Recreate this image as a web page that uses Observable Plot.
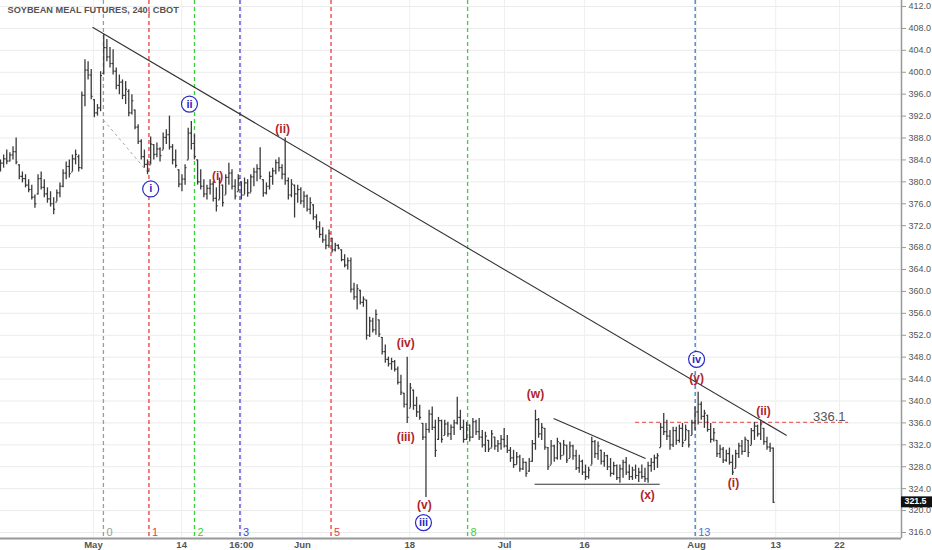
<!DOCTYPE html>
<html><head><meta charset="utf-8">
<script src="https://cdn.jsdelivr.net/npm/d3@7"></script>
<script src="https://cdn.jsdelivr.net/npm/@observablehq/plot@0.6"></script>
<style>
html,body{margin:0;padding:0;background:#fff;}
#chart{width:932px;height:550px;overflow:hidden;}
</style></head><body><div id="chart"></div>
<script>
const title = "SOYBEAN MEAL FUTURES, 240, CBOT";

// OHLC of 240-minute bars (bar index = position on the session axis)
const opens = [
382.5,383.4,384.2,383.8,384.9,385.5,383.1,381.0,380.6,379.4,
378.6,377.2,377.8,380.6,379.0,377.8,376.9,376.0,376.3,378.0,
379.2,381.6,382.8,381.8,384.2,384.6,382.6,395.8,400.4,399.5,
395.0,392.6,393.5,399.8,404.5,402.8,401.6,400.2,397.6,398.2,
395.8,396.5,392.6,393.1,390.0,387.4,384.6,383.2,383.1,386.8,
385.0,386.0,385.8,388.1,388.6,386.4,384.0,382.2,379.6,380.5,
384.0,388.9,387.0,384.0,380.0,379.2,377.8,378.8,379.6,377.0,
376.7,379.4,377.6,380.8,381.6,379.2,378.2,380.0,377.6,379.8,
378.0,380.9,381.8,382.4,380.4,378.0,379.2,381.0,382.0,383.5,
382.6,381.4,380.2,377.6,379.4,377.8,378.6,376.5,377.4,375.0,
375.8,373.6,371.8,370.4,369.4,368.4,369.7,367.6,368.4,367.6,
365.8,364.8,365.6,360.4,359.0,360.2,358.0,358.4,352.0,354.6,
353.0,354.8,351.6,349.0,347.6,346.8,347.2,345.8,343.4,341.4,
339.4,338.7,342.0,339.2,338.0,335.9,333.4,334.8,337.6,335.2,
333.0,336.4,333.7,335.8,334.0,335.2,336.0,337.0,335.2,333.0,
335.6,333.4,336.2,334.4,333.4,332.0,332.8,331.4,333.4,331.8,
332.2,333.0,331.8,331.0,329.6,328.4,329.8,327.6,328.8,327.2,
329.0,332.2,336.6,334.0,335.0,331.5,328.3,331.8,329.6,332.3,
330.1,331.9,329.5,331.8,330.0,327.8,329.0,327.0,326.2,328.3,
332.6,330.4,331.0,329.0,330.0,328.0,326.8,328.2,326.0,327.6,
328.8,327.0,326.2,327.4,326.4,327.0,326.2,325.8,328.2,328.8,
329.6,331.5,335.2,334.4,333.6,332.0,334.6,332.8,335.0,332.8,
334.6,333.7,336.0,338.0,339.4,337.2,337.4,334.8,333.0,332.8,
330.4,331.2,329.2,330.4,328.8,327.7,330.4,331.8,330.8,332.8,
331.9,334.6,335.4,334.0,335.0,332.6,331.6,331.4];
const highs = [
384.0,384.9,385.8,385.3,386.4,388.0,383.1,381.8,381.3,380.4,
379.4,377.6,381.3,381.8,380.4,378.9,378.2,377.1,378.5,379.8,
382.2,383.6,384.0,384.9,385.8,384.9,396.4,402.3,401.9,400.5,
395.0,394.1,400.1,406.9,406.0,404.5,404.1,400.8,399.5,398.6,
398.3,396.8,395.9,393.1,390.4,387.7,385.8,384.0,388.2,386.8,
387.1,386.2,388.9,389.5,392.0,386.8,385.8,382.2,381.3,383.1,
389.8,391.0,388.6,384.0,382.2,380.4,379.4,380.4,380.0,378.9,
380.7,379.4,381.3,383.4,382.2,380.4,381.3,380.0,380.7,380.4,
381.3,382.5,383.1,386.2,380.4,379.8,381.8,382.5,384.0,384.4,
383.1,388.0,380.7,380.4,379.4,379.4,378.9,378.2,377.6,377.1,
375.8,374.0,372.7,371.6,370.3,371.2,369.7,368.8,368.5,367.6,
366.7,366.1,366.1,361.5,361.2,360.2,359.0,358.4,355.3,355.1,
356.6,354.8,351.6,350.2,348.0,347.8,347.4,346.2,344.7,341.4,
348.0,343.2,342.0,340.7,339.2,335.9,335.9,338.3,338.9,336.5,
337.0,336.5,336.5,336.1,335.6,336.5,340.7,338.3,336.5,336.1,
335.6,336.8,336.5,336.8,334.6,334.3,332.8,334.6,333.4,332.8,
333.7,335.0,333.7,331.5,331.0,330.6,330.1,329.5,328.8,329.5,
332.8,338.3,336.8,335.9,335.0,331.5,332.8,331.9,333.2,332.3,
332.8,331.9,332.5,331.9,331.0,330.1,329.2,328.3,327.9,333.4,
332.8,332.5,331.0,330.6,330.1,329.5,328.8,328.3,328.3,329.2,
329.7,328.3,327.9,328.3,327.7,328.3,327.7,328.8,329.5,330.1,
330.4,335.9,337.7,336.5,334.6,335.2,335.2,335.6,335.9,335.6,
334.6,336.5,338.9,341.6,339.8,338.3,337.4,335.9,335.0,332.8,
331.9,331.5,331.0,331.4,330.1,331.0,332.3,332.8,333.4,332.8,
335.0,336.1,335.6,336.5,335.0,333.4,332.3,331.4];
const lows = [
381.8,382.5,383.1,383.6,384.0,383.1,380.4,379.8,378.9,378.0,
376.7,375.2,377.6,378.5,377.1,376.1,375.4,374.0,376.3,377.1,
378.9,380.4,380.7,381.8,383.1,381.8,382.2,393.7,398.6,395.0,
391.7,392.0,392.8,399.5,401.9,400.8,399.5,396.8,395.9,395.0,
394.1,391.9,392.2,389.5,386.8,384.0,382.5,381.3,383.1,384.0,
384.4,383.6,385.8,386.8,385.8,383.1,382.5,378.9,378.2,379.4,
384.0,385.8,384.0,379.4,378.5,377.1,376.7,377.6,376.3,374.5,
376.7,375.4,377.6,379.4,378.5,376.7,378.2,376.7,377.6,377.2,
378.0,379.1,380.0,380.4,377.2,377.6,378.5,379.4,381.3,381.8,
380.4,379.4,376.7,377.1,373.4,376.1,375.8,375.2,374.5,374.0,
373.0,371.2,369.7,368.8,367.6,367.9,367.0,367.2,367.6,365.4,
364.3,363.9,359.7,358.4,356.6,357.5,357.1,351.1,351.6,352.4,
352.0,351.6,348.4,346.9,346.2,345.6,345.3,342.9,341.0,338.7,
335.9,338.7,338.3,337.0,336.5,332.8,322.4,334.1,334.6,329.7,
332.8,332.3,333.7,333.4,332.8,333.7,335.6,334.6,332.3,332.8,
332.5,333.2,333.7,332.8,331.4,330.6,330.6,331.4,331.0,330.6,
331.0,331.4,330.4,328.8,327.7,328.3,327.0,327.3,326.1,327.0,
328.8,331.0,333.2,332.8,331.0,327.3,328.3,328.8,329.2,329.2,
330.1,328.6,329.5,329.2,327.3,326.8,326.4,325.5,325.7,328.3,
329.5,329.2,328.3,327.9,327.3,326.1,326.4,325.5,325.0,325.9,
326.4,325.5,325.5,325.7,325.1,325.7,325.1,325.0,327.0,327.3,
327.7,331.5,333.7,332.8,331.0,331.5,331.9,332.3,331.5,332.8,
331.4,333.7,334.6,335.6,336.5,335.0,334.3,332.3,332.5,329.7,
329.5,328.6,328.8,328.3,326.4,327.7,329.5,330.1,330.6,329.7,
331.9,332.8,333.4,332.8,331.9,331.0,330.6,321.3];
const closes = [
383.4,384.2,383.8,384.9,385.5,383.6,381.0,380.6,379.4,378.6,
377.2,376.0,380.6,379.0,377.8,376.9,376.0,375.0,378.0,379.2,
381.6,382.8,381.5,384.2,385.0,382.6,395.8,400.4,399.5,395.6,
392.6,393.5,399.4,404.5,402.8,401.6,400.2,397.6,398.2,395.8,
396.9,392.6,394.8,390.0,387.4,384.6,383.2,382.0,386.9,385.0,
386.0,384.8,388.1,388.6,386.4,384.0,383.0,379.6,380.5,382.6,
388.9,387.0,384.6,380.0,379.2,377.8,378.8,379.6,377.0,375.6,
379.8,376.2,380.8,381.6,379.2,377.4,380.6,377.6,379.8,378.0,
380.9,381.8,382.4,381.0,378.0,379.2,381.0,382.0,383.5,382.6,
381.4,380.2,377.6,379.6,377.8,378.6,376.5,377.4,375.0,376.2,
373.6,371.8,370.4,369.4,368.4,370.6,367.6,368.4,367.9,365.8,
364.8,365.6,360.4,359.0,360.5,358.0,358.6,352.0,354.6,353.0,
355.8,352.2,349.0,347.6,346.8,347.2,345.8,343.4,341.6,339.4,
337.0,342.4,339.2,338.0,337.0,333.4,334.8,337.6,335.2,331.0,
336.4,333.0,335.8,334.0,335.2,336.0,337.0,335.2,333.0,335.6,
333.4,336.2,334.4,333.4,332.0,333.6,331.2,334.0,331.8,332.2,
333.0,331.8,331.0,329.6,328.4,329.8,327.6,328.8,326.8,329.0,
332.2,336.6,334.0,335.2,331.6,328.0,331.8,329.6,332.6,330.0,
332.0,329.2,331.8,330.0,327.8,329.0,327.0,326.2,327.4,332.6,
330.4,331.8,329.0,330.0,328.0,326.8,328.2,326.0,327.6,328.8,
327.0,326.2,327.4,326.4,327.0,326.2,325.8,328.2,328.8,329.6,
330.0,335.2,334.4,333.6,332.0,334.6,332.8,335.0,332.4,334.8,
332.0,336.0,338.0,339.4,337.2,337.8,334.8,333.0,334.2,330.4,
331.2,329.2,330.4,328.8,327.0,330.4,331.8,330.8,333.0,330.6,
334.6,335.4,334.0,335.8,332.6,331.6,331.4,321.5];

// axes
const xTickPos = [29.7, 57.9, 77.0, 96.5, 130.8, 161.1, 186.7, 222.5, 247.8, 268.2];
const xTickLabels = ["May", "14", "16:00", "Jun", "18", "Jul", "16", "Aug", "13", "22"];
const yTicks = [316,320,324,328,332,336,340,344,348,352,356,360,364,368,372,376,380,384,388,392,396,400,404,408,412];
const xDomain = [0, 288];
const yDomain = [314.9, 413.1];

// Fibonacci time zones
const fibNumbers = [0, 1, 2, 3, 5, 8, 13];
const fibColors = ["#9b9b9b", "#ef3a44", "#3ad23a", "#4a3fd2", "#ef3a44", "#3ad23a", "#3b78d6"];
const fibStartBar = 32.9;
const fibUnitBars = 14.55;

// Elliott wave labels
const redText = ["(i)", "(ii)", "(iv)", "(iii)", "(v)", "(w)", "(x)", "(y)", "(ii)", "(i)"];
const redBar = [69.4, 90.2, 129.5, 129.5, 135.5, 171.0, 206.8, 222.5, 243.9, 234.3];
const redPrice = [381.1, 389.7, 350.6, 333.4, 320.9, 341.2, 322.8, 344.2, 338.1, 325.0];
const blueText = ["i", "ii", "iii", "iv"];
const blueBar = [48.0, 60.4, 135.2, 222.5];
const bluePrice = [378.7, 394.2, 317.8, 347.6];

// drawn lines: [bar1, price1, bar2, price2]
const trendLine = [29.4, 408.2, 251.3, 333.7];
const triangleTop = [176.8, 336.8, 206.2, 329.5];
const triangleBottom = [170.7, 324.8, 210.7, 324.8];
const guideLine = [32.9, 391.3, 47.0, 381.8];
const levelPrice = 336.1;
const levelFrom = 203.0, levelTo = 271.1;
const lastPrice = 321.5;

const bars = highs.map((h, i) => ({i, o: opens[i], h, l: lows[i], c: closes[i]}));
const fibs = fibNumbers.map((n, k) => ({n, x: fibStartBar + n * fibUnitBars, color: fibColors[k]}));
const reds = redText.map((t, k) => ({t, x: redBar[k], y: redPrice[k]}));
const blues = blueText.map((t, k) => ({t, x: blueBar[k], y: bluePrice[k]}));
const toLink = (a) => ({x1: a[0], y1: a[1], x2: a[2], y2: a[3]});
const solidLines = [trendLine, triangleTop, triangleBottom].map(toLink);
const labelMap = new Map(xTickPos.map((p, k) => [p, xTickLabels[k]]));

const font = "'Liberation Sans', Arial, sans-serif";
const barColor = "#3a3a3a";

const chart = Plot.plot({
  width: 932,
  height: 550,
  marginLeft: 0,
  marginTop: 0,
  marginRight: 31,
  marginBottom: 12,
  style: {fontFamily: font, background: "#fff", overflow: "visible"},
  x: {type: "linear", domain: xDomain},
  y: {domain: yDomain},
  marks: [
    Plot.gridY(yTicks, {stroke: "#ebebeb", strokeOpacity: 1}),
    Plot.gridX(xTickPos, {stroke: "#efefef", strokeOpacity: 1}),
    Plot.ruleX(fibs, {x: "x", stroke: "color", strokeDasharray: "4,3", strokeWidth: 1.3}),
    Plot.text(fibs, {x: "x", text: "n", fill: "color", frameAnchor: "bottom", lineAnchor: "bottom", textAnchor: "start", dx: 3, dy: -3, fontSize: 11}),
    Plot.ruleY([levelPrice], {x1: levelFrom, x2: levelTo, stroke: "#e46a6a", strokeDasharray: "4,3", strokeWidth: 1.2}),
    Plot.text([levelPrice], {x: levelTo - 1, y: d => d, text: d => d.toFixed(1), textAnchor: "end", lineAnchor: "bottom", dy: -1, fill: "#555", fontSize: 13, letterSpacing: "0.5px"}),
    Plot.link([toLink(guideLine)], {x1: "x1", y1: "y1", x2: "x2", y2: "y2", stroke: "#aaa", strokeDasharray: "3,3", strokeWidth: 1}),
    Plot.link(solidLines, {x1: "x1", y1: "y1", x2: "x2", y2: "y2", stroke: "#333", strokeWidth: 1.1}),
    // OHLC bars
    Plot.ruleX(bars, {x: "i", y1: "l", y2: "h", stroke: barColor, strokeWidth: 1.3}),
    Plot.link(bars, {x1: d => d.i - 0.45, x2: "i", y1: "o", y2: "o", stroke: barColor, strokeWidth: 1.2}),
    Plot.link(bars, {x1: "i", x2: d => d.i + 0.45, y1: "c", y2: "c", stroke: barColor, strokeWidth: 1.2}),
    // wave labels
    Plot.text(reds, {x: "x", y: "y", text: "t", fill: "#b0242a", fontWeight: "bold", fontSize: 12}),
    Plot.dot(blues, {x: "x", y: "y", r: 8, stroke: "#2b2bc4", strokeWidth: 1.2, fill: "#fff"}),
    Plot.text(blues, {x: "x", y: "y", text: "t", fill: "#2b2bc4", fontWeight: "bold", fontSize: 11}),
    // title
    Plot.text([title], {frameAnchor: "top-left", lineAnchor: "top", textAnchor: "start", dx: 7, dy: 6, text: d => d, fill: "#555", fontWeight: "bold", fontSize: 9.2}),
    // axes
    Plot.ruleX([xDomain[1]], {stroke: "#999", strokeWidth: 1.5}),
    Plot.ruleY([yDomain[0]], {stroke: "#999", strokeWidth: 2}),
    Plot.axisY(yTicks, {anchor: "right", tickSize: 4, tickPadding: 3, tickFormat: d => d.toFixed(1), fontSize: 9, color: "#555", stroke: "#999", label: null}),
    Plot.axisX(xTickPos, {anchor: "bottom", tickSize: 0, tickPadding: 3, tickFormat: d => labelMap.get(d), fontSize: 9.5, fontWeight: "bold", color: "#555", label: null}),
    // last price marker
    Plot.rect([lastPrice], {x1: xDomain[1], x2: xDomain[1] + 10, y1: d => d - 1.0, y2: d => d + 1.0, fill: "#111"}),
    Plot.text([lastPrice], {x: xDomain[1], y: d => d, text: d => d.toFixed(1), textAnchor: "start", dx: 3, dy: -1, fill: "#fff", fontWeight: "bold", fontSize: 8.8})
  ]
});
document.getElementById("chart").appendChild(chart);
</script>
</body></html>
